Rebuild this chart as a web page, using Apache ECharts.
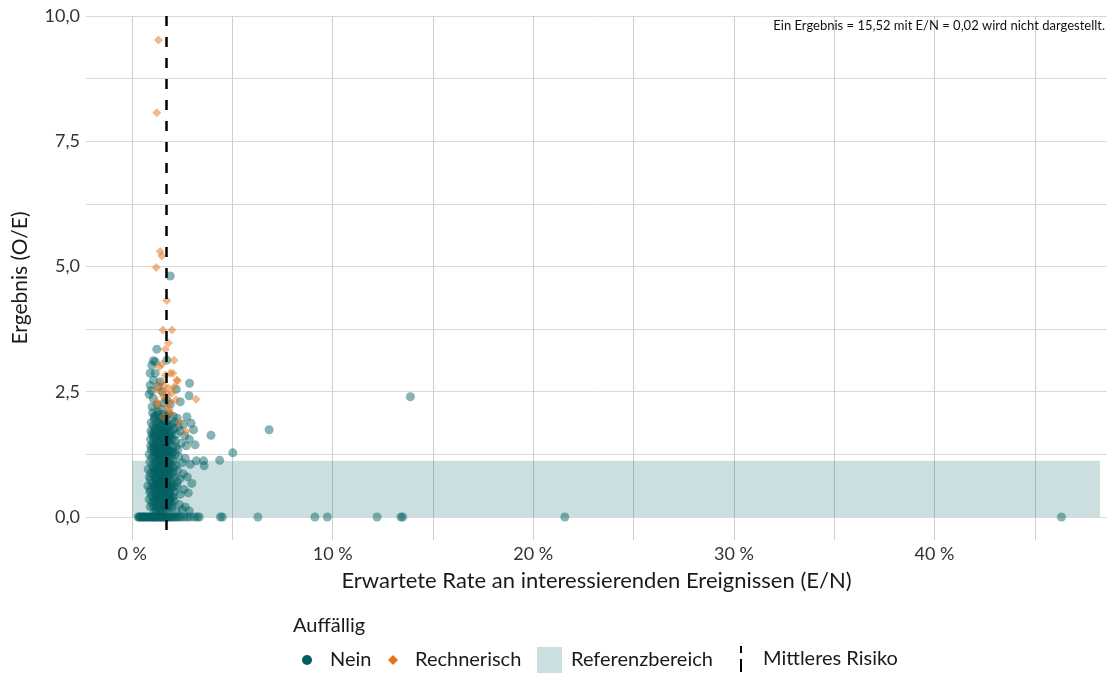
<!DOCTYPE html>
<html><head><meta charset="utf-8">
<script src="https://cdn.jsdelivr.net/npm/echarts@6/dist/echarts.min.js"></script>
<style>html,body{margin:0;padding:0;background:#fff}#c{width:1112px;height:675px}</style>
</head><body><div id="c"></div>
<script>
// ---- data (x = E/N in %, y = O/E) ----
const neinPoints = [
 [1.02,2.08],[1.15,2.02],[1.28,2.10],[1.40,1.96],[1.55,2.05],[1.68,1.99],[1.83,2.06],[2.05,2.01],[2.25,1.97],[2.73,2.00],[2.94,1.87],[3.06,1.74],[2.55,1.85],[2.30,1.80],[2.12,1.90],
 [0.95,1.88],[1.05,1.82],[1.12,1.75],[1.22,1.86],[1.33,1.78],[1.45,1.84],[1.52,1.70],[1.62,1.80],[1.75,1.74],[1.88,1.83],[1.98,1.68],[2.08,1.76],[2.20,1.65],[2.40,1.72],[2.62,1.62],[0.98,1.66],[1.18,1.62],[1.38,1.65],[1.58,1.61],[1.80,1.64],
 [0.92,1.55],[1.03,1.48],[1.10,1.58],[1.20,1.42],[1.30,1.52],[1.42,1.45],[1.50,1.57],[1.60,1.38],[1.70,1.50],[1.82,1.43],[1.93,1.55],[2.03,1.40],[2.15,1.52],[2.28,1.35],[2.45,1.47],[2.70,1.42],[3.14,1.44],[2.85,1.55],[0.96,1.35],[1.15,1.32],[1.35,1.35],[1.55,1.31],[1.75,1.33],[1.95,1.30],
 [0.85,1.25],[0.98,1.18],[1.08,1.28],[1.16,1.10],[1.26,1.22],[1.36,1.05],[1.46,1.26],[1.56,1.14],[1.66,1.02],[1.76,1.20],[1.86,1.09],[1.96,1.24],[2.06,1.12],[2.18,1.03],[2.32,1.21],[2.50,1.08],[2.65,1.17],[2.90,1.05],[3.20,1.12],[1.02,1.04],[1.22,1.16],[1.42,1.19],[1.62,1.28],[1.82,1.00],[2.02,1.29],
 [0.80,0.95],[0.93,0.88],[1.04,0.98],[1.12,0.78],[1.24,0.92],[1.34,0.84],[1.44,0.97],[1.54,0.75],[1.64,0.90],[1.74,0.82],[1.84,0.96],[1.94,0.72],[2.04,0.88],[2.14,0.79],[2.26,0.93],[2.38,0.76],[2.55,0.86],[2.75,0.80],[2.98,0.67],[0.90,0.74],[1.08,0.85],[1.28,0.71],[1.48,0.86],[1.68,0.73],[1.88,0.89],
 [0.78,0.62],[0.90,0.55],[1.00,0.68],[1.10,0.48],[1.20,0.60],[1.30,0.44],[1.40,0.66],[1.50,0.52],[1.60,0.63],[1.70,0.41],[1.80,0.58],[1.90,0.47],[2.00,0.65],[2.12,0.50],[2.24,0.61],[2.40,0.45],[2.58,0.55],[2.80,0.48],[0.95,0.42],[1.15,0.57],[1.35,0.52],[1.55,0.69],[1.75,0.54],[1.95,0.40],
 [0.85,0.35],[0.98,0.28],[1.08,0.38],[1.18,0.22],[1.28,0.33],[1.38,0.15],[1.48,0.30],[1.58,0.20],[1.68,0.36],[1.78,0.12],[1.88,0.27],[1.98,0.18],[2.10,0.32],[2.22,0.10],[2.35,0.25],[2.50,0.15],[2.65,0.20],[2.85,0.12],[1.12,0.10],[1.42,0.08],[1.62,0.26],[1.92,0.34],
 [1.12,1.95],[1.32,1.90],[1.52,1.92],[1.72,1.88],[1.17,1.70],[1.37,1.72],[1.57,1.68],[1.77,1.56],[1.27,1.47],[1.47,1.40],[1.67,1.44],[1.87,1.62],[1.13,1.36],[1.33,1.25],[1.53,1.20],[1.73,1.38],[1.93,1.15],[1.18,1.05],[1.38,1.12],[1.58,0.98],[1.78,1.08],[1.14,0.93],[1.34,0.98],[1.54,0.92],[1.74,0.94],[1.94,0.84],[1.19,0.80],[1.39,0.76],[1.59,0.82],[1.79,0.70],[1.16,0.66],[1.36,0.62],[1.56,0.58],[1.76,0.64],[1.96,0.56],[1.22,0.50],[1.42,0.46],[1.62,0.44],[1.82,0.50],[1.14,0.32],[1.34,0.38],[1.54,0.40],[1.74,0.28],[1.24,0.18],[1.44,0.24],[1.64,0.14],[1.84,0.20],[1.05,0.60],[1.05,1.40],[1.05,1.60],[1.85,1.30],[1.65,1.90],[1.45,1.58],[1.25,1.33],[1.65,1.15],[1.45,0.70],[1.25,0.40],[1.85,0.38],[1.05,0.20],[1.65,1.68],
 [1.10,2.00],[1.30,2.04],[1.50,1.98],[1.70,2.02],[1.20,1.78],[1.40,1.82],[1.60,1.74],[1.80,1.79],[1.10,1.66],[1.30,1.60],[1.50,1.64],[1.70,1.58],[1.90,1.70],[1.20,1.50],[1.40,1.54],[1.60,1.46],[1.80,1.52],[1.10,1.44],[1.30,1.40],[1.50,1.36],[1.70,1.42],[1.20,1.28],[1.40,1.30],[1.60,1.22],[1.80,1.26],[1.10,1.20],[1.30,1.14],[1.50,1.08],[1.70,1.10],[1.90,1.04],[1.20,0.98],[1.40,1.02],[1.60,1.06],[1.80,0.92],[1.10,0.90],[1.30,0.88],[1.50,0.80],[1.70,0.86],[1.20,0.72],[1.40,0.82],[1.60,0.74],[1.80,0.78],[1.10,0.62],[1.30,0.66],[1.50,0.60],[1.70,0.68],[1.90,0.60],[1.20,0.42],[1.40,0.54],[1.60,0.50],[1.80,0.44],[1.10,0.30],[1.30,0.26],[1.50,0.34],[1.70,0.20],[1.20,0.12],[1.50,0.16],[2.00,0.24],[2.15,1.25],[2.25,0.70],
 [0.88,1.10],[0.86,0.80],[0.92,1.42],[0.88,0.50],[0.90,0.20],[2.02,1.55],[2.08,0.98],[2.05,0.40],[2.18,1.40],[2.12,0.62],[2.00,1.85],[0.94,1.72],
 [1.23,3.35],[1.06,3.12],[0.98,3.03],[1.15,3.10],[0.90,2.87],[1.15,2.87],[1.06,2.73],[1.40,2.70],[2.86,2.67],[0.90,2.63],[1.30,2.60],[2.84,2.42],[1.05,2.37],[1.25,2.24],[1.50,2.50],[0.85,2.45],[1.70,2.35],[1.00,2.20],[1.45,2.15],[1.90,2.25],[2.40,2.30],[1.73,3.13],[2.20,2.55],[0.95,2.52],[1.60,2.28],
 [1.90,4.81],[13.87,2.40],[6.83,1.74],[3.93,1.63],[5.02,1.28],[4.36,1.13],[3.56,1.12],[3.59,1.02]
];
const neinZeroRowX = [0.30,0.35,0.40,0.42,0.50,0.55,0.60,0.62,0.70,0.78,0.80,0.85,0.92,1.00,1.00,1.05,1.10,1.12,1.20,1.25,1.30,1.32,1.40,1.45,1.50,1.52,1.60,1.65,1.72,1.80,1.85,1.92,2.00,2.08,2.15,2.25,2.35,2.45,2.60,2.75,2.90,3.10,3.25,3.35,4.40,4.50,6.27,9.11,9.73,12.21,13.40,13.49,21.57,46.33];
const rechnerischPoints = [
 [1.31,9.52],[1.23,8.07],[1.40,5.30],[1.48,5.21],[1.20,4.98],[1.73,4.32],[1.53,3.73],[1.98,3.73],[1.81,3.47],[1.65,3.35],
 [2.09,3.13],[1.48,3.05],[1.36,3.00],[2.03,2.87],[2.26,2.72],[1.65,2.83],[1.40,2.67],[1.81,2.57],[1.98,2.47],[1.23,2.30],
 [1.56,2.40],[2.19,2.34],[3.19,2.35],[1.56,2.00],[2.36,1.88],[2.69,1.71],[1.31,2.24],[1.90,2.30],[1.73,2.20],
 [1.90,2.87],[2.23,2.73],[1.60,2.62],[1.75,2.45],[1.45,2.50],[1.20,2.55],[2.10,2.60],[1.85,2.15],[1.95,2.05]
];
const meanRisk = 1.7;
const refX = [0, 48.25];
const refY = [0, 1.12];
const xRange = [-2.3, 48.6];
const yRange = [-0.46, 10];
const xTicks = [0,5,10,15,20,25,30,35,40,45];
const xLabels = [0,10,20,30,40];
const yTicks = [0,1.25,2.5,3.75,5,6.25,7.5,8.75,10];
const yLabels = [0,2.5,5,7.5,10];
const note = 'Ein Ergebnis = 15,52 mit E/N = 0,02 wird nicht dargestellt.';

const TEAL = '#005f61', ORANGE = '#e2741c', REF = '#cbdfe0';
const FONT = 'Lato, "Noto Sans", sans-serif';
const TXT = '#1a1a1a';
const neinAll = neinZeroRowX.map(x => [x, 0]).concat(neinPoints);

const chart = echarts.init(document.getElementById('c'), null, {renderer:'canvas'});
const lt = (pad) => ({fontFamily:FONT, fontSize:20, color:TXT, padding:[0,0,0,pad]});
const legendBase = {orient:'horizontal', padding:0, selectedMode:false};
chart.setOption({
  animation:false,
  textStyle:{fontFamily:FONT},
  title:{text:note, right:2, top:14, textStyle:{fontSize:13, fontWeight:'normal', color:'#111', fontFamily:FONT}},
  grid:{left:86, right:5, top:16, bottom:135, containLabel:false, outerBoundsMode:'none'},
  xAxis:{type:'value', min:xRange[0], max:xRange[1],
    name:'Erwartete Rate an interessierenden Ereignissen (E/N)', nameLocation:'middle', nameGap:30,
    nameTextStyle:{fontSize:22, color:TXT, fontFamily:FONT},
    axisLine:{show:false},
    axisTick:{show:false, customValues:xTicks},
    axisLabel:{customValues:xLabels, fontSize:18, color:'#333', margin:5, fontFamily:FONT, formatter:v=>v+' %'},
    splitLine:{show:true, lineStyle:{color:'#cfcfcf', width:1}}
  },
  yAxis:{type:'value', min:yRange[0], max:yRange[1],
    name:'Ergebnis (O/E)', nameLocation:'middle', nameGap:55,
    nameTextStyle:{fontSize:21, color:TXT, fontFamily:FONT},
    axisLine:{show:false},
    axisTick:{show:false, customValues:yTicks},
    axisLabel:{customValues:yLabels, fontSize:18, color:'#333', margin:6, fontFamily:FONT, formatter:v=>v.toFixed(1).replace('.',',')},
    splitLine:{show:true, lineStyle:{color:'#d9d9d9', width:1}}
  },
  legend:[
    Object.assign({}, legendBase, {data:[{name:'Nein', icon:'circle', itemStyle:{color:TEAL, opacity:1}}], left:302, top:650, itemWidth:10, itemHeight:10, textStyle:lt(13)}),
    Object.assign({}, legendBase, {data:[{name:'Rechnerisch', icon:'diamond', itemStyle:{color:ORANGE, opacity:1}}], left:388, top:650, itemWidth:10, itemHeight:10, textStyle:lt(12)}),
    Object.assign({}, legendBase, {data:[{name:'Referenzbereich', icon:'rect', itemStyle:{color:REF, opacity:1}}], left:537, top:647, itemWidth:25, itemHeight:26, textStyle:lt(4)}),
    Object.assign({}, legendBase, {data:[{name:'Mittleres Risiko', icon:'path://M0,0H2V7H0Z M0,13H2V26H0Z', itemStyle:{color:'#000', opacity:1}}], left:740, top:646, itemWidth:2, itemHeight:26, textStyle:lt(16)})
  ],
  graphic:[{type:'text', left:293, top:616, style:{text:'Auffällig', fontSize:20, fontFamily:FONT, fill:TXT}}],
  series:[
    {name:'Referenzbereich', type:'scatter', data:[], itemStyle:{color:REF}, z:1,
      markArea:{silent:true, itemStyle:{color:'rgba(0,96,100,0.2)'}, data:[[{coord:[refX[0],refY[0]]},{coord:[refX[1],refY[1]]}]]}},
    {name:'Nein', type:'scatter', data:neinAll, symbol:'circle', symbolSize:9, z:3,
      itemStyle:{color:TEAL, opacity:0.47}},
    {name:'Rechnerisch', type:'scatter', data:rechnerischPoints, symbol:'diamond', symbolSize:9, z:4,
      itemStyle:{color:ORANGE, opacity:0.5}},
    {name:'Mittleres Risiko', type:'line', data:[], itemStyle:{color:'#000'}, z:5,
      markLine:{silent:true, symbol:'none', label:{show:false}, z:6,
        lineStyle:{color:'#000', width:2.5, type:[10,11]},
        data:[[{coord:[meanRisk, yRange[1]]},{coord:[meanRisk, yRange[0]]}]]}}
  ]
});
</script></body></html>
